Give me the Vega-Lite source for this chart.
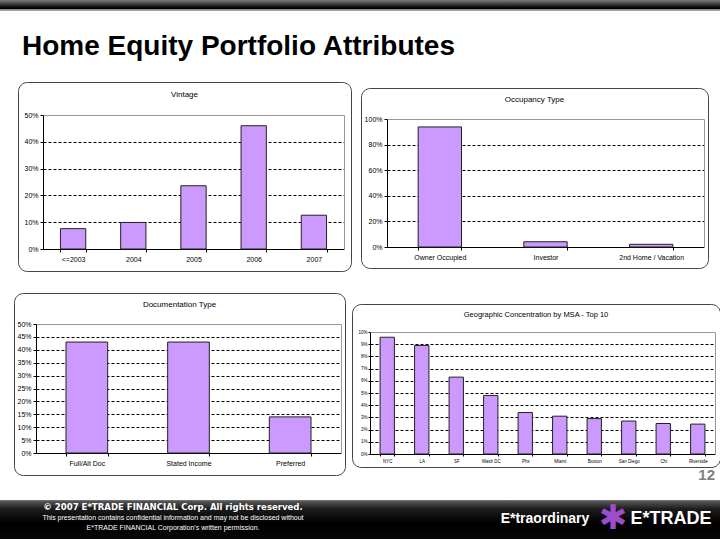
{
  "$schema": "https://vega.github.io/schema/vega-lite/v6.json",
  "padding": 0,
  "background": "white",
  "spacing": 20,
  "config": {
    "view": {"stroke": null},
    "font": "Liberation Sans",
    "axis": {"labelFont": "Liberation Sans", "domainWidth": 1, "tickWidth": 1, "labelColor": "#000", "domainColor": "#000", "tickColor": "#000"},
    "title": {"font": "Liberation Sans", "color": "#000"}
  },
  "datasets": {
    "vintage": [
      {"category": "<=2003", "share": 0.076},
      {"category": "2004", "share": 0.099},
      {"category": "2005", "share": 0.236},
      {"category": "2006", "share": 0.460},
      {"category": "2007", "share": 0.126}
    ],
    "occupancy": [
      {"category": "Owner Occupied", "share": 0.938},
      {"category": "Investor", "share": 0.041},
      {"category": "2nd Home / Vacation", "share": 0.021}
    ],
    "documentation": [
      {"category": "Full/Alt Doc", "share": 0.430},
      {"category": "Stated Income", "share": 0.430},
      {"category": "Preferred", "share": 0.140}
    ],
    "msa": [
      {"category": "NYC", "share": 0.0957},
      {"category": "LA", "share": 0.089},
      {"category": "SF", "share": 0.063},
      {"category": "Wash DC", "share": 0.048},
      {"category": "Phx", "share": 0.034},
      {"category": "Miami", "share": 0.031},
      {"category": "Boston", "share": 0.029},
      {"category": "San Diego", "share": 0.027},
      {"category": "Chi", "share": 0.025},
      {"category": "Riverside", "share": 0.0245}
    ]
  },
  "vconcat": [
    {
      "width": 720,
      "height": 61,
      "data": {"values": [{}]},
      "mark": {"type": "rect", "fill": {"gradient": "linear", "x1": 0, "y1": 0, "x2": 0, "y2": 1, "stops": [
        {"offset": 0, "color": "#7c7c7c"},
        {"offset": 0.13, "color": "#000000"},
        {"offset": 0.15, "color": "#000000"},
        {"offset": 0.155, "color": "#8a8a8a"},
        {"offset": 0.17, "color": "#8a8a8a"},
        {"offset": 0.18, "color": "#ffffff"},
        {"offset": 1, "color": "#ffffff"}
      ]}},
      "encoding": {},
      "title": {"text": "Home Equity Portfolio Attributes", "frame": "group", "anchor": "start", "orient": "top", "offset": -83, "baseline": "alphabetic", "dx": 22, "fontSize": 28, "fontWeight": "bold", "font": "Liberation Sans", "color": "#000"}
    },
    {
      "spacing": 8,
      "hconcat": [
        {"width": 9, "height": 1, "data": {"values": []}, "mark": "point"},
        {
          "width": 333,
          "height": 189,
          "view": {"stroke": "#444", "cornerRadius": 9, "strokeWidth": 1},
          "title": {"text": "Vintage", "frame": "group", "anchor": "middle", "offset": -21, "baseline": "middle", "fontSize": 8, "fontWeight": "normal"},
          "data": {"name": "vintage"},
          "layer": [
            {
              "mark": {"type": "bar", "fill": "#CC99FF", "stroke": "#222", "strokeWidth": 1},
              "encoding": {
                "x": {"field": "category", "type": "nominal", "sort": null,
                  "scale": {"range": [25, 326], "paddingInner": 0.58, "paddingOuter": 0.29},
                  "axis": {"title": null, "orient": "bottom", "offset": -22, "labelAngle": 0, "tickBand": "extent", "tickSize": 3, "labelPadding": 3, "labelFontSize": 7, "grid": false}},
                "y": {"field": "share", "type": "quantitative",
                  "scale": {"domain": [0, 0.5], "range": [167, 33], "nice": false},
                  "axis": {"title": null, "orient": "left", "offset": -25, "values": [0, 0.1, 0.2, 0.3, 0.4, 0.5], "format": ".0%", "tickSize": 3, "labelPadding": 2, "labelFontSize": 7,
                    "grid": true, "gridColor": "#000", "gridDash": [3, 2], "gridWidth": 1,
                    "gridOpacity": {"condition": {"test": "datum.value < 0.001 || datum.value > 0.499", "value": 0}, "value": 1}}}
              }
            },
            {
              "mark": {"type": "bar", "opacity": 0},
              "encoding": {
                "x": {"field": "category", "type": "nominal", "sort": null,
                  "axis": {"title": null, "orient": "top", "offset": -33, "labels": false, "ticks": false, "grid": false, "domainColor": "#999"}},
                "y": {"field": "share", "type": "quantitative",
                  "axis": {"title": null, "orient": "right", "offset": -7, "labels": false, "ticks": false, "grid": false, "domainColor": "#999"}}
              }
            }
          ],
          "resolve": {"axis": {"x": "independent", "y": "independent"}}
        },
        {
          "spacing": 4,
          "vconcat": [
            {"width": 1, "height": 1, "data": {"values": []}, "mark": "point"},
            {
              "width": 347,
              "height": 180,
              "view": {"stroke": "#444", "cornerRadius": 9, "strokeWidth": 1},
              "title": {"text": "Occupancy Type", "frame": "group", "anchor": "middle", "offset": -20, "baseline": "middle", "fontSize": 8, "fontWeight": "normal"},
              "data": {"name": "occupancy"},
              "layer": [
                {
                  "mark": {"type": "bar", "fill": "#CC99FF", "stroke": "#222", "strokeWidth": 1},
                  "encoding": {
                    "x": {"field": "category", "type": "nominal", "sort": null,
                      "scale": {"range": [26, 343], "paddingInner": 0.59, "paddingOuter": 0.295},
                      "axis": {"title": null, "orient": "bottom", "offset": -21, "labelAngle": 0, "tickBand": "extent", "tickSize": 3, "labelPadding": 3, "labelFontSize": 7, "grid": false}},
                    "y": {"field": "share", "type": "quantitative",
                      "scale": {"domain": [0, 1], "range": [159, 31], "nice": false},
                      "axis": {"title": null, "orient": "left", "offset": -26, "values": [0, 0.2, 0.4, 0.6, 0.8, 1.0], "format": ".0%", "tickSize": 3, "labelPadding": 2, "labelFontSize": 7,
                        "grid": true, "gridColor": "#000", "gridDash": [3, 2], "gridWidth": 1,
                        "gridOpacity": {"condition": {"test": "datum.value < 0.001 || datum.value > 0.999", "value": 0}, "value": 1}}}
                  }
                },
                {
                  "mark": {"type": "bar", "opacity": 0},
                  "encoding": {
                    "x": {"field": "category", "type": "nominal", "sort": null,
                      "axis": {"title": null, "orient": "top", "offset": -31, "labels": false, "ticks": false, "grid": false, "domainColor": "#999"}},
                    "y": {"field": "share", "type": "quantitative",
                      "axis": {"title": null, "orient": "right", "offset": -4, "labels": false, "ticks": false, "grid": false, "domainColor": "#999"}}
                  }
                }
              ],
              "resolve": {"axis": {"x": "independent", "y": "independent"}}
            }
          ]
        }
      ]
    },
    {
      "spacing": 15,
      "vconcat": [
        {
          "spacing": 5,
          "hconcat": [
            {"width": 8, "height": 1, "data": {"values": []}, "mark": "point"},
            {
              "width": 331,
              "height": 182,
              "view": {"stroke": "#444", "cornerRadius": 9, "strokeWidth": 1},
              "title": {"text": "Documentation Type", "frame": "group", "anchor": "middle", "offset": -20, "baseline": "middle", "fontSize": 8, "fontWeight": "normal"},
              "data": {"name": "documentation"},
              "layer": [
                {
                  "mark": {"type": "bar", "fill": "#CC99FF", "stroke": "#222", "strokeWidth": 1},
                  "encoding": {
                    "x": {"field": "category", "type": "nominal", "sort": null,
                      "scale": {"range": [22, 327], "paddingInner": 0.59, "paddingOuter": 0.295},
                      "axis": {"title": null, "orient": "bottom", "offset": -22, "labelAngle": 0, "tickBand": "extent", "tickSize": 3, "labelPadding": 3, "labelFontSize": 7, "grid": false}},
                    "y": {"field": "share", "type": "quantitative",
                      "scale": {"domain": [0, 0.5], "range": [160, 31], "nice": false},
                      "axis": {"title": null, "orient": "left", "offset": -22, "values": [0, 0.05, 0.1, 0.15, 0.2, 0.25, 0.3, 0.35, 0.4, 0.45, 0.5], "format": ".0%", "tickSize": 3, "labelPadding": 2, "labelFontSize": 7,
                        "grid": true, "gridColor": "#000", "gridDash": [3, 2], "gridWidth": 1,
                        "gridOpacity": {"condition": {"test": "datum.value < 0.001 || datum.value > 0.499", "value": 0}, "value": 1}}}
                  }
                },
                {
                  "mark": {"type": "bar", "opacity": 0},
                  "encoding": {
                    "x": {"field": "category", "type": "nominal", "sort": null,
                      "axis": {"title": null, "orient": "top", "offset": -31, "labels": false, "ticks": false, "grid": false, "domainColor": "#999"}},
                    "y": {"field": "share", "type": "quantitative",
                      "axis": {"title": null, "orient": "right", "offset": -4, "labels": false, "ticks": false, "grid": false, "domainColor": "#999"}}
                  }
                }
              ],
              "resolve": {"axis": {"x": "independent", "y": "independent"}}
            },
            {
              "spacing": 9,
              "vconcat": [
                {"width": 1, "height": 1, "data": {"values": []}, "mark": "point"},
                {
                  "width": 368,
                  "height": 163,
                  "view": {"stroke": "#444", "cornerRadius": 9, "strokeWidth": 1},
                  "title": {"text": "Geographic  Concentration by MSA - Top 10", "frame": "group", "anchor": "middle", "offset": -18.5, "baseline": "middle", "fontSize": 7.5, "fontWeight": "normal"},
                  "data": {"name": "msa"},
                  "layer": [
                    {
                      "mark": {"type": "bar", "fill": "#CC99FF", "stroke": "#222", "strokeWidth": 1},
                      "encoding": {
                        "x": {"field": "category", "type": "nominal", "sort": null,
                          "scale": {"range": [18, 363], "paddingInner": 0.585, "paddingOuter": 0.2925},
                          "axis": {"title": null, "orient": "bottom", "offset": -13, "labelAngle": 0, "tickBand": "extent", "tickSize": 2, "labelPadding": 2, "labelFontSize": 4.5, "grid": false}},
                        "y": {"field": "share", "type": "quantitative",
                          "scale": {"domain": [0, 0.1], "range": [150, 28], "nice": false},
                          "axis": {"title": null, "orient": "left", "offset": -18, "values": [0, 0.01, 0.02, 0.03, 0.04, 0.05, 0.06, 0.07, 0.08, 0.09, 0.1], "format": ".0%", "tickSize": 2, "labelPadding": 1, "labelFontSize": 4.5,
                            "grid": true, "gridColor": "#000", "gridDash": [3, 2], "gridWidth": 1,
                            "gridOpacity": {"condition": {"test": "datum.value < 0.0001 || datum.value > 0.0999", "value": 0}, "value": 1}}}
                      }
                    },
                    {
                      "mark": {"type": "bar", "opacity": 0},
                      "encoding": {
                        "x": {"field": "category", "type": "nominal", "sort": null,
                          "axis": {"title": null, "orient": "top", "offset": -28, "labels": false, "ticks": false, "grid": false, "domainColor": "#999"}},
                        "y": {"field": "share", "type": "quantitative",
                          "axis": {"title": null, "orient": "right", "offset": -5, "labels": false, "ticks": false, "grid": false, "domainColor": "#999"}}
                      }
                    },
                    {
                      "data": {"values": [{}]},
                      "mark": {"type": "text", "text": "12", "font": "Liberation Sans", "fontWeight": "bold", "fontSize": 15, "color": "#7f7f7f", "align": "right", "baseline": "alphabetic", "dx": 179, "dy": 94.5},
                      "encoding": {}
                    }
                  ],
                  "resolve": {"axis": {"x": "independent", "y": "independent"}}
                }
              ]
            }
          ]
        },
        {
          "width": 720,
          "height": 40,
          "data": {"values": [{}]},
          "layer": [
            {
              "mark": {"type": "rect", "fill": {"gradient": "linear", "x1": 0, "y1": 0, "x2": 0, "y2": 1, "stops": [
                {"offset": 0, "color": "#ffffff"},
                {"offset": 0.02, "color": "#ffffff"},
                {"offset": 0.04, "color": "#5a5a5a"},
                {"offset": 0.25, "color": "#1c1c1c"},
                {"offset": 0.6, "color": "#000000"},
                {"offset": 1, "color": "#080808"}
              ]}},
              "encoding": {}
            },
            {
              "mark": {"type": "text", "text": "© 2007 E*TRADE FINANCIAL Corp. All rights reserved.", "font": "DejaVu Sans Condensed, Liberation Sans", "fontWeight": "bold", "fontSize": 9.5, "color": "#ffffff", "align": "center", "baseline": "middle", "dx": -187, "dy": -12},
              "encoding": {}
            },
            {
              "mark": {"type": "text", "text": "This presentation contains confidential information and may not be disclosed without", "font": "Liberation Sans", "fontSize": 7, "color": "#ffffff", "align": "center", "baseline": "middle", "dx": -187, "dy": -1},
              "encoding": {}
            },
            {
              "mark": {"type": "text", "text": "E*TRADE FINANCIAL Corporation's written permission.", "font": "Liberation Sans", "fontSize": 7, "color": "#ffffff", "align": "center", "baseline": "middle", "dx": -187, "dy": 9},
              "encoding": {}
            },
            {
              "mark": {"type": "text", "text": "E*traordinary", "font": "Liberation Sans", "fontWeight": "bold", "fontSize": 14, "color": "#ffffff", "align": "center", "baseline": "middle", "dx": 185, "dy": 0},
              "encoding": {}
            },
            {
              "mark": {"type": "text", "text": "✱", "font": "DejaVu Sans", "fontWeight": "bold", "fontSize": 34, "color": "#9B4DCA", "align": "center", "baseline": "middle", "dx": 253, "dy": 0},
              "encoding": {}
            },
            {
              "mark": {"type": "text", "text": "E*TRADE", "font": "Liberation Sans", "fontWeight": "bold", "fontSize": 18, "color": "#ffffff", "align": "center", "baseline": "middle", "dx": 311, "dy": 0},
              "encoding": {}
            }
          ]
        }
      ]
    }
  ]
}
